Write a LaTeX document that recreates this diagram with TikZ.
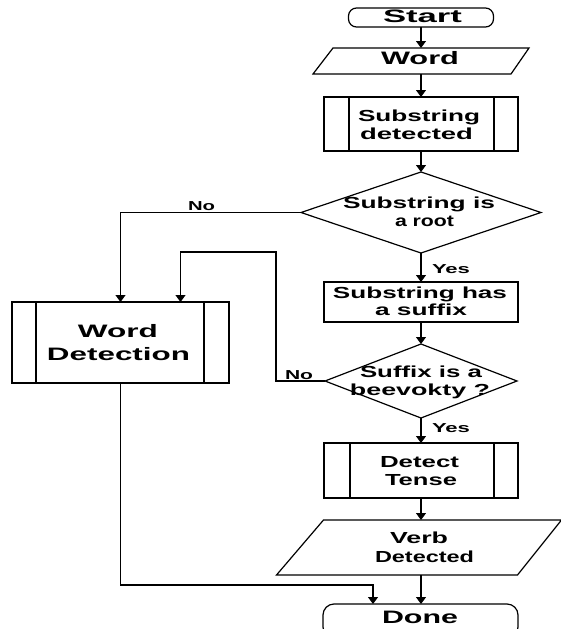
\documentclass[tikz,border=0pt]{standalone}
\usepackage{fontspec}
\setmainfont{Liberation Sans}
\usetikzlibrary{shapes.geometric,arrows.meta}
\newcommand\tx[2]{\resizebox{#1pt}{\height}{#2}}
\begin{document}
\begin{tikzpicture}[x=1pt,y=-1pt, line width=1.2pt,
  arr/.style={-{Triangle[width=10pt,length=7pt]}},
  shp/.style={draw, inner sep=0pt, outer sep=0pt},
  ghost/.style={inner sep=0pt, outer sep=0pt},
  big/.style={font=\fontsize{18}{18}\selectfont\bfseries, inner sep=0pt, anchor=base},
  mid/.style={font=\fontsize{16}{16}\selectfont\bfseries, inner sep=0pt, anchor=base},
  sml/.style={font=\fontsize{13}{13}\selectfont\bfseries, inner sep=0pt, anchor=base}]
\useasboundingbox (0,0) rectangle (561,629);
\clip (0,0) rectangle (561,629);
% shapes
\node[shp, rounded corners=8pt, minimum width=145pt, minimum height=19pt] (start) at (421,17.5) {};
\node[ghost, minimum width=216pt, minimum height=26pt] (word) at (421,61) {};
\draw ([xshift=20pt]word.north west) -- (word.north east) -- ([xshift=-18pt]word.south east) -- (word.south west) -- cycle;
\node[shp, minimum width=194pt, minimum height=54pt] (sd) at (421,124) {};
\draw ([xshift=25pt]sd.north west) -- ([xshift=25pt]sd.south west)
      ([xshift=-24pt]sd.north east) -- ([xshift=-24pt]sd.south east);
\node[shp, diamond, minimum width=240pt, minimum height=81pt] (d1) at (421,212.5) {};
\node[shp, minimum width=194pt, minimum height=40pt] (shs) at (421,302) {};
\node[shp, diamond, minimum width=192pt, minimum height=74pt] (d2) at (421,381) {};
\node[shp, minimum width=217pt, minimum height=81pt] (wd) at (120.5,342.5) {};
\draw ([xshift=24pt]wd.north west) -- ([xshift=24pt]wd.south west)
      ([xshift=-25pt]wd.north east) -- ([xshift=-25pt]wd.south east);
\node[shp, minimum width=194pt, minimum height=55pt] (dt) at (421,470.5) {};
\draw ([xshift=26pt]dt.north west) -- ([xshift=26pt]dt.south west)
      ([xshift=-24pt]dt.north east) -- ([xshift=-24pt]dt.south east);
\node[ghost, minimum width=285pt, minimum height=55pt] (vd) at (419,547.5) {};
\draw ([xshift=47pt]vd.north west) -- (vd.north east) -- ([xshift=-44pt]vd.south east) -- (vd.south west) -- cycle;
\node[shp, rounded corners=11pt, minimum width=195pt, minimum height=34pt] (done) at (420.5,621) {};
% texts
\node[big] (tstart) at (422.5,23) {\tx{79}{Start}};
\node[big] (tword) at (420,64) {\tx{78}{Word}};
\node[mid] (tsd1) at (419,121) {\tx{122}{Substring}};
\node[mid] (tsd2) at (416.5,139) {\tx{113}{detected}};
\node[mid] (td11) at (419,208) {\tx{152}{Substring is}};
\node[mid] (td12) at (424.5,226) {\tx{59}{a root}};
\node[sml] (tyes1) at (451,273) {\tx{38}{Yes}};
\node[sml] (tno1) at (201.5,210) {\tx{27}{No}};
\node[mid] (tshs1) at (420,298) {\tx{174}{Substring has}};
\node[mid] (tshs2) at (421,315) {\tx{92}{a suffix}};
\node[mid] (td21) at (421,377) {\tx{122}{Suffix is a}};
\node[mid] (td22) at (420,395) {\tx{140}{beevokty ?}};
\node[sml] (tno2) at (299,379) {\tx{28}{No}};
\node[sml] (tyes2) at (451,432) {\tx{38}{Yes}};
\node[big] (twd1) at (118,337) {\tx{80}{Word}};
\node[big] (twd2) at (118.5,360) {\tx{143}{Detection}};
\node[mid] (tdt1) at (419.5,467) {\tx{79}{Detect}};
\node[mid] (tdt2) at (421,485) {\tx{72}{Tense}};
\node[mid] (tvd1) at (419,543) {\tx{58}{Verb}};
\node[mid] (tvd2) at (424.5,562) {\tx{99}{Detected}};
\node[big] (tdone) at (420,623) {\tx{76}{Done}};
% connectors
\draw[arr] (start.south) -- (start.south |- word.north);
\draw[arr] (start.south |- word.south) -- (sd.north);
\draw[arr] (sd.south) -- (d1.north);
\draw[arr] (d1.south) -- (shs.north);
\draw[arr] (shs.south) -- (d2.north);
\draw[arr] (d2.south) -- (dt.north);
\draw[arr] (dt.south) -- (dt.south |- vd.north);
\draw[arr] (dt.south |- vd.south) -- (dt.south |- done.north);
\draw[arr] (d1.west) -| (wd.north);
\coordinate (loop) at (276,252);
\draw[arr] (d2.west) -| (loop) -| ([xshift=60pt]wd.north);
\coordinate (jn) at (373,585);
\draw[arr] (wd.south) |- (jn) -- (jn |- done.north);
\end{tikzpicture}
\end{document}
